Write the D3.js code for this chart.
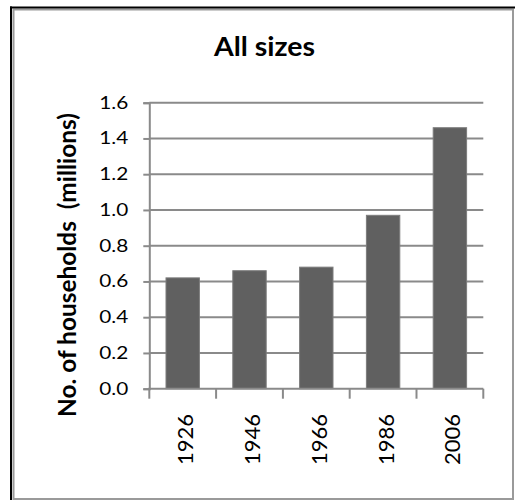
<!DOCTYPE html>
<html>
<head>
<meta charset="utf-8">
<script src="https://cdn.jsdelivr.net/npm/d3@7"></script>
<style>
  html, body { margin: 0; padding: 0; background: #fff; }
  svg { display: block; }
  text { font-family: Lato, "Open Sans", sans-serif; fill: #000; }
</style>
</head>
<body>
<svg id="chart" width="515" height="500"></svg>
<script>
// Households (millions) by census year
const years = ["1926", "1946", "1966", "1986", "2006"];
const households = [0.62, 0.66, 0.68, 0.97, 1.46];
const yTicks = [0.0, 0.2, 0.4, 0.6, 0.8, 1.0, 1.2, 1.4, 1.6];
const chartTitle = "All sizes";
const yTitle = "No. of households  (millions)";

const svg = d3.select("#chart");

// frame: black edge on the left/top, grey border around the whole panel
svg.append("rect")
  .attr("x", 13.5).attr("y", 9.5).attr("width", 499.5).attr("height", 489.5)
  .attr("fill", "#fff").attr("stroke", "#9a9a9a").attr("stroke-width", 2);
svg.append("line").attr("x1", 11).attr("y1", 6.5).attr("x2", 11).attr("y2", 500)
  .attr("stroke", "#000").attr("stroke-width", 2);
svg.append("line").attr("x1", 10).attr("y1", 7.5).attr("x2", 515).attr("y2", 7.5)
  .attr("stroke", "#000").attr("stroke-width", 2);

const plot = { left: 149.3, right: 483.3, top: 102.7, bottom: 388.7 };

const x = d3.scaleBand()
  .domain(years)
  .range([plot.left, plot.right])
  .paddingInner(0.5)
  .paddingOuter(0.25);

const y = d3.scaleLinear()
  .domain([0, 1.6])
  .range([plot.bottom, plot.top]);

const grey = "#8a8a8a";

// horizontal gridlines
svg.append("g")
  .selectAll("line")
  .data(yTicks.filter(d => d > 0))
  .join("line")
  .attr("x1", plot.left).attr("x2", plot.right)
  .attr("y1", d => y(d)).attr("y2", d => y(d))
  .attr("stroke", grey).attr("stroke-width", 2);

// bars
svg.append("g")
  .selectAll("rect")
  .data(years.map((yr, i) => ({ yr, v: households[i] })))
  .join("rect")
  .attr("x", d => x(d.yr))
  .attr("width", x.bandwidth())
  .attr("y", d => y(d.v))
  .attr("height", d => y(0) - y(d.v))
  .attr("fill", "#606060")
  .attr("stroke", "#7c7c7c")
  .attr("stroke-width", 1);

// y axis
const yAxis = svg.append("g")
  .attr("transform", `translate(${plot.left},0)`)
  .call(d3.axisLeft(y).tickValues(yTicks).tickFormat(d3.format(".1f")).tickSizeOuter(0).tickSize(6).tickPadding(15));
yAxis.select(".domain").attr("stroke", grey).attr("stroke-width", 2);
yAxis.selectAll(".tick line").attr("stroke", grey).attr("stroke-width", 2);
yAxis.selectAll(".tick text")
  .attr("font-size", 17)
  .attr("font-family", "Lato, sans-serif")
  .attr("fill", "#000")
  .attr("textLength", 29)
  .attr("lengthAdjust", "spacingAndGlyphs");

// x axis: ticks at category boundaries
const xAxisG = svg.append("g").attr("transform", `translate(0,${plot.bottom})`);
xAxisG.append("line")
  .attr("x1", plot.left - 1).attr("x2", plot.right)
  .attr("stroke", grey).attr("stroke-width", 2);
const step = x.step();
const bounds = d3.range(years.length + 1).map(i => plot.left + i * step);
xAxisG.selectAll("line.tk")
  .data(bounds)
  .join("line")
  .attr("class", "tk")
  .attr("x1", d => d).attr("x2", d => d)
  .attr("y1", 0).attr("y2", 10)
  .attr("stroke", grey).attr("stroke-width", 2);

// rotated year labels
svg.append("g")
  .selectAll("text")
  .data(years)
  .join("text")
  .attr("transform", d => `translate(${x(d) + x.bandwidth() / 2 + 10.5},414) rotate(-90)`)
  .attr("text-anchor", "end")
  .attr("font-size", 22)
  .attr("textLength", 51)
  .attr("lengthAdjust", "spacingAndGlyphs")
  .text(d => d);

// title
svg.append("text")
  .attr("x", 264.5).attr("y", 56)
  .attr("text-anchor", "middle")
  .attr("font-size", 27)
  .attr("font-weight", "bold")
  .attr("textLength", 101)
  .attr("lengthAdjust", "spacingAndGlyphs")
  .text(chartTitle);

// y axis title
svg.append("text")
  .attr("transform", "translate(76,265) rotate(-90)")
  .attr("text-anchor", "middle")
  .attr("font-size", 24.5)
  .attr("font-weight", "bold")
  .attr("textLength", 304)
  .attr("lengthAdjust", "spacingAndGlyphs")
  .style("white-space", "pre")
  .text(yTitle);
</script>
</body>
</html>
